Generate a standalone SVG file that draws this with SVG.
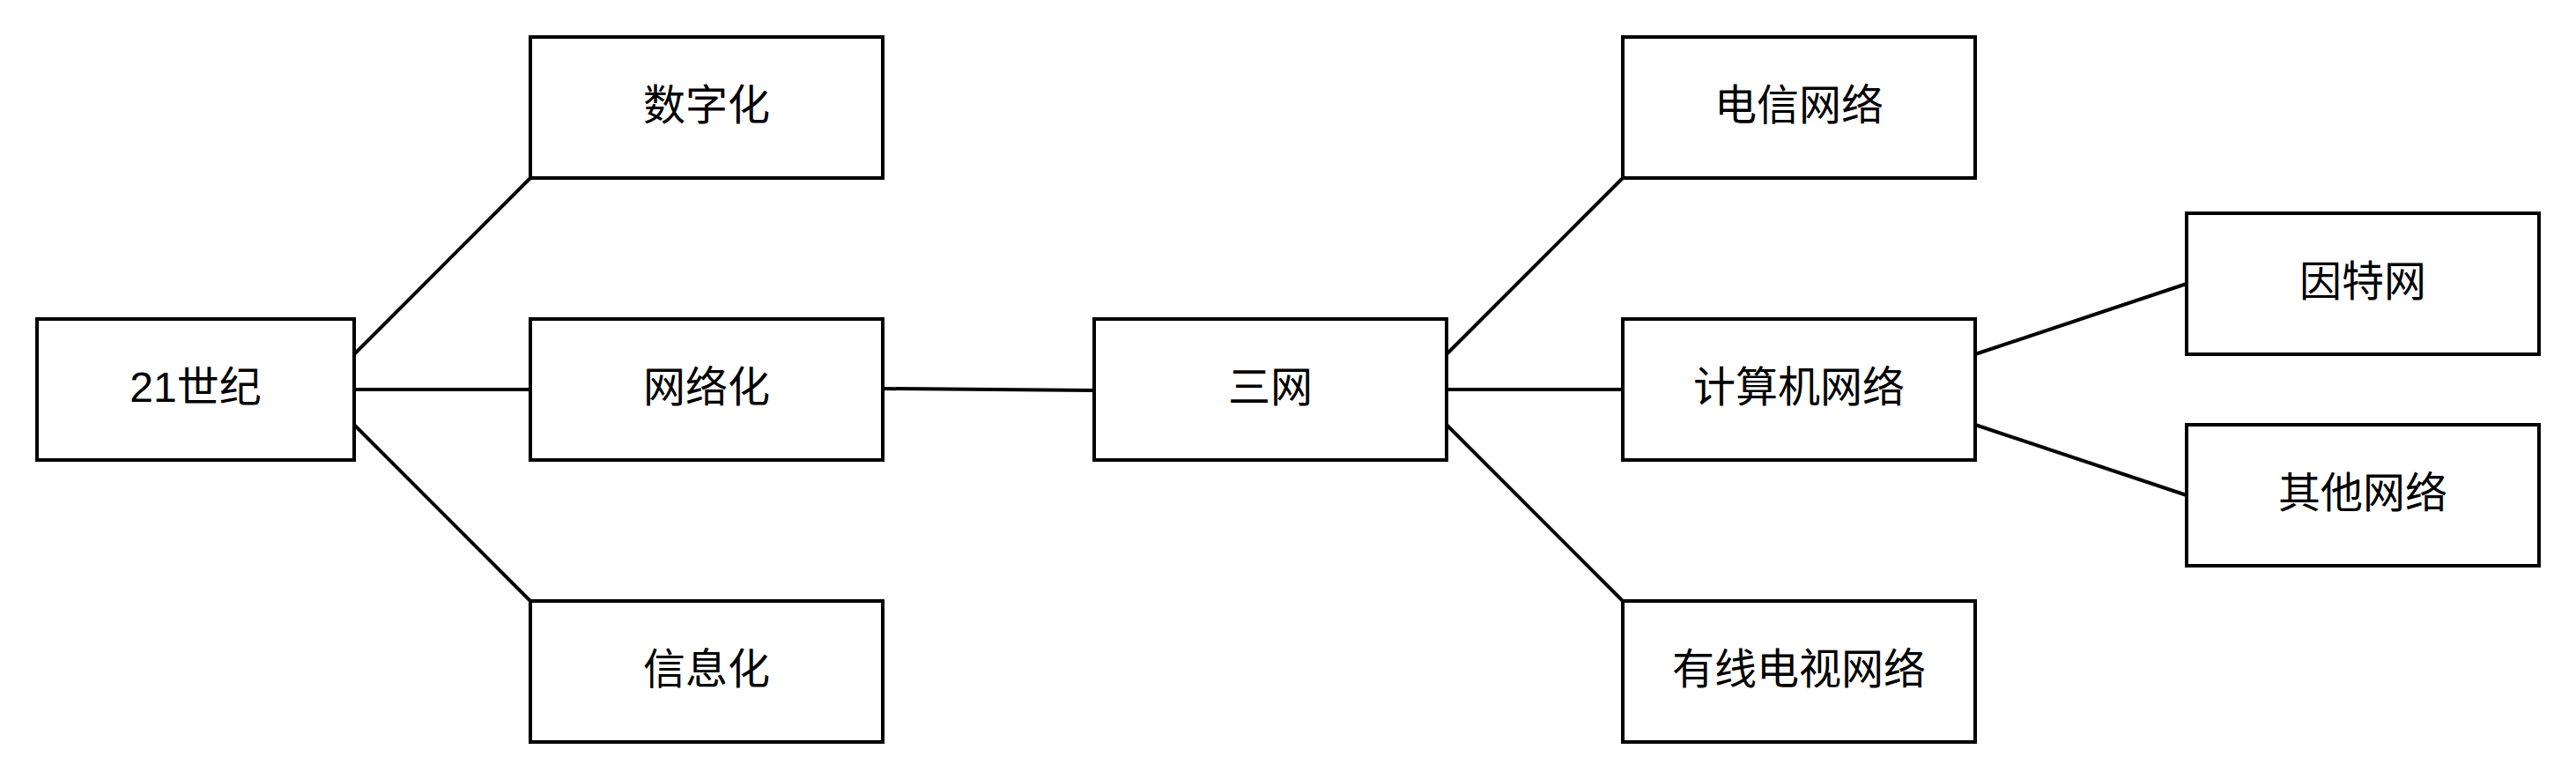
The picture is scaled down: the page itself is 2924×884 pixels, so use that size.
<svg xmlns="http://www.w3.org/2000/svg" width="2924" height="884" viewBox="0 0 2924 884">
<style>
.box{fill:#ffffff;stroke:#000000;stroke-width:4}
.lbl{font-family:"Liberation Sans","Noto Sans CJK SC",sans-serif;font-size:48px;fill:#000000;text-anchor:middle}
.edge{fill:none;stroke:#000000;stroke-width:4}
</style>
<rect width="2924" height="884" fill="#ffffff"/>
<g id="connectors">
<line class="edge" x1="402" y1="402" x2="602" y2="202"/>
<line class="edge" x1="402" y1="442" x2="602" y2="442"/>
<line class="edge" x1="402" y1="482" x2="602" y2="682"/>
<line class="edge" x1="1002" y1="441" x2="1242" y2="443"/>
<line class="edge" x1="1642" y1="402" x2="1842" y2="202"/>
<line class="edge" x1="1642" y1="442" x2="1842" y2="442"/>
<line class="edge" x1="1642" y1="482" x2="1842" y2="682"/>
<line class="edge" x1="2242" y1="402" x2="2482" y2="322"/>
<line class="edge" x1="2242" y1="482" x2="2482" y2="562"/>
</g>
<g id="n21">
<rect class="box" x="42" y="362" width="360" height="160"/>
<text class="lbl" x="222" y="456">21世纪</text>
</g>
<g id="nShuzi">
<rect class="box" x="602" y="42" width="400" height="160"/>
<text class="lbl" x="802" y="136">数字化</text>
</g>
<g id="nWangluo">
<rect class="box" x="602" y="362" width="400" height="160"/>
<text class="lbl" x="802" y="456">网络化</text>
</g>
<g id="nXinxi">
<rect class="box" x="602" y="682" width="400" height="160"/>
<text class="lbl" x="802" y="776">信息化</text>
</g>
<g id="nSanwang">
<rect class="box" x="1242" y="362" width="400" height="160"/>
<text class="lbl" x="1442" y="456">三网</text>
</g>
<g id="nDianxin">
<rect class="box" x="1842" y="42" width="400" height="160"/>
<text class="lbl" x="2042" y="136">电信网络</text>
</g>
<g id="nJisuanji">
<rect class="box" x="1842" y="362" width="400" height="160"/>
<text class="lbl" x="2042" y="456">计算机网络</text>
</g>
<g id="nYouxian">
<rect class="box" x="1842" y="682" width="400" height="160"/>
<text class="lbl" x="2042" y="776">有线电视网络</text>
</g>
<g id="nYinte">
<rect class="box" x="2482" y="242" width="400" height="160"/>
<text class="lbl" x="2682" y="336">因特网</text>
</g>
<g id="nQita">
<rect class="box" x="2482" y="482" width="400" height="160"/>
<text class="lbl" x="2682" y="576">其他网络</text>
</g>
</svg>
